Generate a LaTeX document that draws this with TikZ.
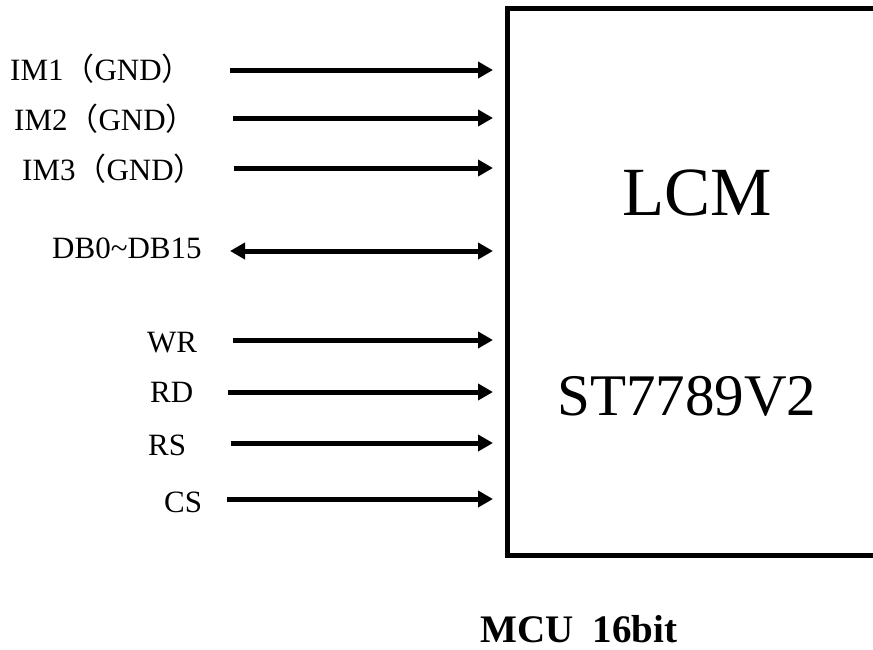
\documentclass[tikz,border=0pt]{standalone}
\usepackage{fontspec}
\setmainfont{Liberation Serif}
\newfontfamily\cjkfont{Noto Sans CJK SC}
\usepackage{tikz}
\usetikzlibrary{arrows.meta, positioning}
\tikzset{signal/.style={  % Sets the properties for each input line
           line width=5pt,
           -{Triangle[length=15pt,width=16pt]},
           shorten >=14pt},
         bus/.style={     % Two-way data lines
           signal,
           {Triangle[length=15pt,width=16pt]}-{Triangle[length=15pt,width=16pt]}},
         pinname/.style={ % Text in front of each line
           anchor=base west,
           inner sep=0pt,
           font=\fontsize{31}{36}\selectfont},
         chip/.style={    % The LCM box, cut off on the right
           draw,
           line width=5pt,
           inner sep=0pt,
           outer sep=0pt,
           minimum width=423pt,
           minimum height=547pt}}

\begin{document}
\begin{tikzpicture}[x=1pt, y=-1pt]
\useasboundingbox (0,0) rectangle (873,649);

\node[chip] (lcm) at (718.5,281.5) {};
\node[anchor=base, inner sep=0pt, font=\fontsize{69}{80}\selectfont] (lcmname) at (697.5,215) {LCM};
\node[anchor=base, inner sep=0pt, font=\fontsize{59}{70}\selectfont] (ic) at (687,415) {ST7789V2};
\node[anchor=base west, inner sep=0pt, font=\fontsize{39}{46}\selectfont\bfseries] (mode) at (480,642) {MCU~~16bit};

\node[pinname] (im1text) at (10,80)  {IM1{\cjkfont （}GND{\cjkfont ）}};
\node[pinname] (im2text) at (14,130) {IM2{\cjkfont （}GND{\cjkfont ）}};
\node[pinname] (im3text) at (22,180) {IM3{\cjkfont （}GND{\cjkfont ）}};
\node[pinname] (dbtext)  at (52,258) {DB0\textasciitilde DB15};
\node[pinname] (wrtext)  at (147,352) {WR};
\node[pinname] (rdtext)  at (150,402) {RD};
\node[pinname] (rstext)  at (148,455) {RS};
\node[pinname] (cstext)  at (164,512) {CS};

\coordinate (im1) at (230,70);
\coordinate (im2) at (233,118);
\coordinate (im3) at (234,168);
\coordinate (db)  at (230,251);
\coordinate (wr)  at (233,340);
\coordinate (rd)  at (228,392);
\coordinate (rs)  at (231,443);
\coordinate (cs)  at (227,499);

\foreach \s in {im1,im2,im3,wr,rd,rs,cs}
  \draw[signal] (\s) -- (lcm.west |- \s);
\draw[bus] (db) -- (lcm.west |- db);

\end{tikzpicture}
\end{document}
